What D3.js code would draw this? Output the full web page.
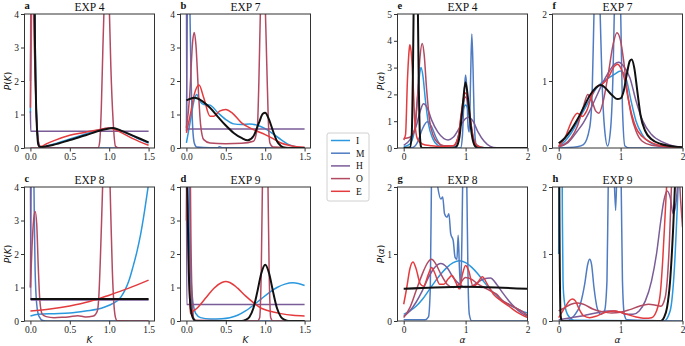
<!DOCTYPE html>
<html><head><meta charset="utf-8">
<script src="https://cdn.jsdelivr.net/npm/d3@7"></script>
<style>body{margin:0;background:#fff}</style>
</head><body>
<svg id="chart" width="685" height="346"></svg>
<script>
// ---- categories / labels ----
const methods = ["I", "M", "H", "O", "E"];
const experiments = ["EXP 4", "EXP 7", "EXP 8", "EXP 9"];
const kTicks = [0, 0.5, 1.0, 1.5];
const alphaTicks = [0, 1, 2];
const kYTicks = [0, 1, 2, 3, 4];
const alphaYTicks5 = [0, 1, 2, 3, 4, 5];
const alphaYTicks2 = [0, 1, 2];

// ---- estimated densities P(K), [K, P] pairs; *_T is the true distribution ----
const K4_I = [[0,1.05],[0.01,3],[0.025,6],[0.05,5],[0.07,1.5],[0.09,0.45],[0.11,0.1],[0.13,0.03],[0.2,0.06],[0.3,0.12],[0.5,0.27],[0.7,0.42],[0.85,0.53],[1.0,0.6],[1.1,0.55],[1.2,0.46],[1.35,0.3],[1.5,0.15]];
const K4_M = [[0,2],[0.02,6],[0.05,4.5],[0.07,1.6],[0.09,0.4],[0.11,0.08],[0.14,0.01],[0.3,0],[1.5,0]];
const K4_H = [[0,1.1],[0.004,0.5],[0.5,0.5],[1.0,0.5],[1.5,0.5]];
const K4_O = [[0,0],[0.8,0],[0.86,0.01],[0.88,0.2],[0.9,1.2],[0.92,3],[0.935,4.2],[0.97,8],[1.0,4.3],[1.02,2.5],[1.05,0.8],[1.08,0.05],[1.12,0],[1.5,0]];
const K4_E = [[0,1.2],[0.005,4.5],[0.02,6],[0.05,3],[0.075,1],[0.095,0.3],[0.12,0.05],[0.14,0.05],[0.2,0.12],[0.3,0.22],[0.5,0.38],[0.7,0.47],[0.85,0.54],[1.0,0.6],[1.1,0.52],[1.3,0.28],[1.5,0.08]];
const K4_T = [[0.04,12],[0.055,4],[0.07,1.5],[0.085,0.5],[0.1,0.1],[0.12,0.03],[0.2,0.05],[0.3,0.1],[0.5,0.24],[0.7,0.38],[0.85,0.5],[1.0,0.58],[1.05,0.6],[1.15,0.52],[1.3,0.37],[1.5,0.17]];

const K7_I = [[0,0.15],[0.05,0.8],[0.1,1.45],[0.13,1.6],[0.17,1.4],[0.22,1.3],[0.3,1.28],[0.4,1.05],[0.5,0.85],[0.6,0.72],[0.7,0.7],[0.8,0.72],[0.9,0.68],[1.0,0.58],[1.1,0.42],[1.2,0.25],[1.3,0.1],[1.4,0.03],[1.5,0.01]];
const K7_M = [[0,0.5],[0.02,5],[0.04,4.5],[0.06,2],[0.08,0.6],[0.1,0.15],[0.13,0.03],[0.3,0.01],[0.4,0.01],[0.42,0.04],[0.45,0.01],[1.5,0]];
const K7_H = [[0,6],[0.004,0.57],[0.5,0.57],[1.0,0.57],[1.5,0.57]];
const K7_O = [[0,0.6],[0.04,1.5],[0.08,3.2],[0.1,3.45],[0.12,3.1],[0.15,1.8],[0.18,0.7],[0.22,0.25],[0.3,0.15],[0.5,0.13],[0.7,0.14],[0.85,0.2],[0.9,0.6],[0.92,2],[0.94,4.2],[0.97,6],[1.0,4.3],[1.02,2.5],[1.04,0.8],[1.06,0.15],[1.1,0.03],[1.5,0]];
const K7_E = [[0,0.45],[0.05,1.0],[0.1,1.6],[0.16,1.88],[0.22,1.5],[0.3,0.95],[0.35,0.95],[0.42,1.1],[0.5,1.15],[0.58,1.05],[0.7,0.75],[0.85,0.55],[1.0,0.4],[1.1,0.28],[1.2,0.15],[1.3,0.08],[1.4,0.04],[1.5,0.02]];
const K7_T = [[0,1.42],[0.05,1.47],[0.1,1.5],[0.15,1.47],[0.2,1.4],[0.3,1.2],[0.4,0.93],[0.5,0.67],[0.6,0.45],[0.7,0.3],[0.78,0.23],[0.85,0.35],[0.92,0.75],[0.97,1.02],[1.0,1.05],[1.04,0.9],[1.1,0.5],[1.15,0.2],[1.2,0.06],[1.25,0.01],[1.3,0],[1.5,0]];

const K8_I = [[0,0.15],[0.1,0.2],[0.3,0.22],[0.5,0.24],[0.7,0.3],[0.9,0.38],[1.0,0.47],[1.1,0.6],[1.15,0.72],[1.2,0.92],[1.25,1.2],[1.3,1.6],[1.35,2.05],[1.4,2.6],[1.45,3.3],[1.5,4.1]];
const K8_M = [[0,1],[0.02,6],[0.04,5],[0.05,3],[0.06,1.5],[0.08,0.5],[0.1,0.2],[0.12,0.1],[0.14,0.03],[0.2,0],[1.5,0]];
const K8_H = [[0,6],[0.004,0.63],[0.5,0.63],[1.0,0.63],[1.5,0.63]];
const K8_O = [[0,1.0],[0.02,2.2],[0.04,3.0],[0.06,3.27],[0.08,2.9],[0.1,1.6],[0.12,0.6],[0.15,0.2],[0.2,0.13],[0.3,0.1],[0.4,0.11],[0.5,0.13],[0.6,0.16],[0.7,0.12],[0.8,0.15],[0.85,0.3],[0.87,0.8],[0.89,2],[0.91,3.5],[0.93,5],[0.97,6],[1.0,5],[1.02,3.2],[1.04,1.5],[1.06,0.5],[1.08,0.1],[1.1,0.01],[1.5,0]];
const K8_E = [[0,0.3],[0.25,0.36],[0.5,0.45],[0.75,0.58],[1.0,0.77],[1.25,0.98],[1.5,1.22]];
const K8_T = [[0,0.66],[0.5,0.66],[1.0,0.66],[1.5,0.66]];

const K9_I = [[0,5],[0.03,3],[0.06,1.2],[0.09,0.45],[0.12,0.22],[0.18,0.1],[0.3,0.06],[0.45,0.07],[0.55,0.1],[0.65,0.17],[0.75,0.3],[0.85,0.47],[0.95,0.66],[1.05,0.85],[1.15,1.0],[1.25,1.1],[1.35,1.14],[1.42,1.12],[1.5,1.06]];
const K9_M = [[0,6],[0.03,5],[0.06,1],[0.09,0.1],[0.12,0],[1.5,0]];
const K9_H = [[0,6],[0.004,0.49],[0.5,0.49],[1.0,0.49],[1.5,0.49]];
const K9_O = [[0,3],[0.02,6],[0.04,6],[0.06,2],[0.08,0.3],[0.1,0.02],[0.9,0],[0.93,0.1],[0.95,1.5],[0.97,5],[1.0,8],[1.03,5],[1.05,1.5],[1.07,0.1],[1.1,0],[1.5,0]];
const K9_E = [[0,4.5],[0.02,2.5],[0.04,0.8],[0.05,0.22],[0.08,0.28],[0.15,0.42],[0.25,0.7],[0.35,0.98],[0.45,1.15],[0.5,1.18],[0.55,1.15],[0.65,0.98],[0.75,0.75],[0.85,0.55],[0.95,0.38],[1.05,0.3],[1.2,0.22],[1.35,0.17],[1.5,0.15]];
const K9_T = [[0,6],[0.01,4],[0.03,1.5],[0.05,0.5],[0.08,0.1],[0.12,0],[0.7,0],[0.75,0.03],[0.8,0.12],[0.85,0.38],[0.9,0.87],[0.95,1.42],[1.0,1.68],[1.05,1.42],[1.1,0.87],[1.15,0.38],[1.2,0.12],[1.25,0.03],[1.3,0],[1.5,0]];

// ---- estimated densities P(alpha) ----
const A4_I = [[0,0.05],[0.1,0.15],[0.17,0.6],[0.22,1.8],[0.26,2.8],[0.28,3.0],[0.31,2.7],[0.35,1.8],[0.4,0.9],[0.47,0.35],[0.55,0.1],[0.65,0.03],[0.8,0.05],[0.88,0.4],[0.94,1.2],[0.98,1.55],[1.0,1.6],[1.03,1.5],[1.07,1.0],[1.12,0.4],[1.18,0.1],[1.3,0.01],[2,0]];
const A4_M = [[0,0],[0.15,0.02],[0.22,0.2],[0.3,0.7],[0.38,0.98],[0.45,0.8],[0.52,0.4],[0.6,0.1],[0.7,0.01],[0.92,0],[0.95,0.5],[0.98,2.2],[1.0,2.72],[1.02,2.2],[1.04,0.8],[1.06,0.6],[1.08,2.5],[1.1,4.25],[1.12,3.0],[1.14,1.0],[1.17,0.1],[1.2,0],[2,0]];
const A4_H = [[0,0.1],[0.1,0.3],[0.2,0.8],[0.27,1.4],[0.32,1.65],[0.38,1.5],[0.45,1.05],[0.55,0.6],[0.65,0.35],[0.72,0.3],[0.8,0.4],[0.9,0.75],[1.0,1.1],[1.05,1.15],[1.12,1.0],[1.2,0.6],[1.3,0.25],[1.4,0.06],[1.5,0.01],[2,0]];
const A4_O = [[0,0.35],[0.1,0.4],[0.18,0.7],[0.22,1.8],[0.26,3.3],[0.3,3.9],[0.33,3.5],[0.37,2.2],[0.42,1.0],[0.48,0.45],[0.55,0.2],[0.65,0.08],[0.8,0.08],[0.88,0.4],[0.93,1.2],[0.98,1.85],[1.0,1.9],[1.03,1.75],[1.08,1.0],[1.13,0.35],[1.2,0.08],[1.3,0.01],[2,0]];
const A4_E = [[0,0.3],[0.03,0.5],[0.06,2.5],[0.09,3.7],[0.1,3.85],[0.12,3.6],[0.15,2.5],[0.18,1.0],[0.22,0.35],[0.3,0.15],[0.45,0.08],[0.6,0.05],[0.8,0.08],[0.88,0.4],[0.93,1.3],[0.97,1.9],[1.0,2.05],[1.03,1.9],[1.07,1.2],[1.12,0.4],[1.18,0.08],[1.3,0.01],[2,0]];
const A4_T = [[0,0],[0.1,0.02],[0.13,0.5],[0.15,3],[0.17,7],[0.2,9],[0.22,7],[0.24,3],[0.26,0.6],[0.28,0.05],[0.3,0],[0.8,0],[0.85,0.05],[0.9,0.4],[0.95,1.5],[1.0,2.45],[1.05,1.6],[1.1,0.5],[1.15,0.08],[1.2,0],[2,0]];

const A7_I = [[0,0.02],[0.1,0.1],[0.2,0.22],[0.3,0.38],[0.4,0.55],[0.5,0.72],[0.6,0.88],[0.7,0.98],[0.8,1.04],[0.9,1.1],[1.0,1.15],[1.05,1.12],[1.1,1.0],[1.17,0.7],[1.25,0.4],[1.35,0.2],[1.5,0.07],[1.7,0.02],[2,0]];
const A7_M = [[0,0],[0.3,0.02],[0.4,0.05],[0.5,0.3],[0.54,0.8],[0.57,2],[0.62,3.5],[0.67,2],[0.7,1.0],[0.74,0.3],[0.79,0.03],[0.84,0.3],[0.88,1.2],[0.9,2.1],[0.95,3.5],[1.0,2.1],[1.03,0.6],[1.07,0.03],[1.15,0],[2,0]];
const A7_H = [[0,0.02],[0.15,0.08],[0.3,0.25],[0.4,0.38],[0.5,0.55],[0.6,0.75],[0.7,0.95],[0.8,1.12],[0.9,1.25],[0.97,1.28],[1.05,1.22],[1.15,1.05],[1.25,0.7],[1.35,0.42],[1.5,0.2],[1.7,0.08],[1.85,0.03],[2,0.01]];
const A7_O = [[0,0.02],[0.1,0.06],[0.2,0.15],[0.3,0.32],[0.4,0.62],[0.47,0.8],[0.53,0.72],[0.6,0.55],[0.65,0.52],[0.72,0.7],[0.8,1.1],[0.88,1.55],[0.94,1.72],[1.0,1.6],[1.05,1.3],[1.1,0.9],[1.17,0.5],[1.25,0.25],[1.35,0.1],[1.5,0.04],[2,0]];
const A7_E = [[0,0.03],[0.1,0.15],[0.2,0.38],[0.3,0.52],[0.38,0.47],[0.45,0.55],[0.55,0.82],[0.62,0.92],[0.7,0.95],[0.8,1.05],[0.9,1.22],[0.95,1.25],[1.0,1.2],[1.07,1.0],[1.12,0.75],[1.18,0.5],[1.25,0.3],[1.35,0.17],[1.5,0.08],[1.7,0.03],[2,0.01]];
const A7_T = [[0,0.07],[0.1,0.15],[0.2,0.27],[0.3,0.42],[0.4,0.6],[0.5,0.78],[0.6,0.9],[0.68,0.94],[0.75,0.9],[0.85,0.8],[0.95,0.73],[1.0,0.74],[1.05,0.85],[1.1,1.1],[1.15,1.3],[1.18,1.32],[1.22,1.2],[1.27,0.85],[1.32,0.5],[1.4,0.25],[1.5,0.13],[1.65,0.06],[1.8,0.03],[2,0.01]];

const A8_I = [[0,0.1],[0.1,0.15],[0.2,0.22],[0.3,0.32],[0.4,0.45],[0.5,0.58],[0.6,0.7],[0.7,0.8],[0.8,0.87],[0.9,0.9],[1.0,0.87],[1.1,0.8],[1.2,0.7],[1.3,0.58],[1.4,0.47],[1.5,0.38],[1.6,0.3],[1.7,0.24],[1.8,0.2],[1.9,0.15],[2,0.12]];
const A8_M = [[0,0.02],[0.35,0.02],[0.4,0.06],[0.43,0.5],[0.45,2.2],[0.47,2.6],[0.5,2.4],[0.55,2.0],[0.6,1.82],[0.63,1.85],[0.66,1.6],[0.7,1.55],[0.73,1.6],[0.76,1.3],[0.8,1.2],[0.83,0.95],[0.86,0.92],[0.88,1.28],[0.9,0.8],[0.92,0.48],[0.94,1.2],[0.96,2.5],[0.99,3],[1.02,2],[1.04,0.6],[1.06,0.1],[1.1,0],[2,0]];
const A8_H = [[0,0.07],[0.1,0.15],[0.2,0.28],[0.3,0.45],[0.4,0.65],[0.5,0.8],[0.6,0.86],[0.7,0.8],[0.8,0.65],[0.9,0.55],[1.0,0.5],[1.1,0.52],[1.2,0.58],[1.3,0.63],[1.4,0.64],[1.5,0.55],[1.6,0.42],[1.7,0.3],[1.8,0.2],[1.9,0.12],[2,0.07]];
const A8_O = [[0,0.05],[0.1,0.2],[0.2,0.45],[0.3,0.7],[0.38,0.86],[0.45,0.92],[0.52,0.85],[0.6,0.7],[0.7,0.55],[0.8,0.5],[0.9,0.55],[1.0,0.65],[1.1,0.62],[1.2,0.55],[1.3,0.5],[1.4,0.45],[1.5,0.4],[1.6,0.3],[1.7,0.25],[1.8,0.2],[1.9,0.15],[2,0.08]];
const A8_E = [[0,0.25],[0.05,0.5],[0.1,0.78],[0.15,0.88],[0.2,0.78],[0.27,0.55],[0.32,0.52],[0.4,0.7],[0.45,0.8],[0.5,0.72],[0.58,0.55],[0.65,0.55],[0.72,0.63],[0.78,0.68],[0.84,0.58],[0.9,0.48],[0.95,0.7],[1.0,0.83],[1.05,0.75],[1.12,0.52],[1.18,0.55],[1.27,0.66],[1.35,0.55],[1.45,0.4],[1.55,0.32],[1.7,0.22],[1.85,0.12],[2,0.05]];
const A8_T = [[0,0.48],[0.5,0.5],[1.0,0.51],[1.5,0.5],[2,0.48]];

const A9_I = [[0,1],[0.02,4],[0.05,3],[0.06,1.5],[0.07,0.6],[0.08,0.4],[0.12,0.15],[0.18,0.05],[0.25,0.01],[1.7,0],[1.8,0.15],[1.87,0.8],[1.92,1.8],[1.97,3],[2,4]];
const A9_M = [[0,0],[0.15,0.01],[0.25,0.08],[0.35,0.25],[0.42,0.55],[0.47,0.85],[0.5,0.92],[0.53,0.85],[0.57,0.5],[0.62,0.2],[0.68,0.1],[0.74,0.15],[0.78,0.6],[0.8,2.0],[0.83,3],[0.88,2.6],[0.92,1.65],[0.95,2.6],[0.98,3],[1.01,2],[1.03,0.6],[1.06,0.1],[1.1,0.02],[2,0]];
const A9_H = [[0,0.02],[0.2,0.05],[0.4,0.08],[0.6,0.12],[0.8,0.15],[0.9,0.15],[1.0,0.13],[1.1,0.1],[1.2,0.1],[1.3,0.15],[1.4,0.3],[1.5,0.6],[1.58,1.0],[1.65,1.5],[1.7,1.8],[1.75,1.94],[1.8,1.85],[1.85,1.6],[1.9,1.8],[1.95,2.5],[2,3.5]];
const A9_O = [[0,0.15],[0.1,0.2],[0.2,0.25],[0.3,0.27],[0.4,0.25],[0.55,0.18],[0.7,0.14],[0.85,0.12],[1.0,0.13],[1.15,0.17],[1.3,0.22],[1.45,0.25],[1.55,0.24],[1.65,0.22],[1.72,0.35],[1.78,1.0],[1.83,2.2],[1.88,3],[1.93,2.5],[1.97,1.8],[2,1.4]];
const A9_E = [[0,0.05],[0.1,0.2],[0.18,0.31],[0.22,0.33],[0.27,0.3],[0.33,0.18],[0.4,0.08],[0.5,0.05],[0.6,0.07],[0.7,0.11],[0.8,0.14],[0.9,0.15],[1.0,0.13],[1.1,0.1],[1.25,0.06],[1.4,0.04],[1.5,0.05],[1.58,0.15],[1.64,0.4],[1.68,0.9],[1.72,1.6],[1.76,2.3],[1.82,3],[1.9,3],[1.96,2.5],[2,2.0]];
const A9_T = [[0,6],[0.01,2],[0.03,0.1],[0.05,0],[1.65,0],[1.7,0.05],[1.75,0.2],[1.8,0.6],[1.85,1.4],[1.9,2.5],[1.95,4],[2,5]];

// ---- styling ----
const methodColor = {I: "#2a98df", M: "#4f7bc2", H: "#7a5c98", O: "#b24a62", E: "#e43b3e"};
const serif = "Liberation Serif, Times New Roman, serif";
const sans = "DejaVu Sans, sans-serif";

const svg = d3.select("#chart");

const colsK = [[24.5, 154.5], [180.5, 310.5]];
const colsA = [[397.5, 527.5], [552.5, 682.5]];
const rows = [[14, 148], [187, 321]];

const panels = [
  {id: "a", exp: 0, kind: "K", col: 0, row: 0, s: [K4_I, K4_M, K4_H, K4_O, K4_E], t: K4_T, ymax: 4, yt: kYTicks},
  {id: "b", exp: 1, kind: "K", col: 1, row: 0, s: [K7_I, K7_M, K7_H, K7_O, K7_E], t: K7_T, ymax: 4, yt: kYTicks},
  {id: "c", exp: 2, kind: "K", col: 0, row: 1, s: [K8_I, K8_M, K8_H, K8_O, K8_E], t: K8_T, ymax: 4, yt: kYTicks},
  {id: "d", exp: 3, kind: "K", col: 1, row: 1, s: [K9_I, K9_M, K9_H, K9_O, K9_E], t: K9_T, ymax: 4, yt: kYTicks},
  {id: "e", exp: 0, kind: "A", col: 0, row: 0, s: [A4_I, A4_M, A4_H, A4_O, A4_E], t: A4_T, ymax: 5, yt: alphaYTicks5},
  {id: "f", exp: 1, kind: "A", col: 1, row: 0, s: [A7_I, A7_M, A7_H, A7_O, A7_E], t: A7_T, ymax: 2, yt: alphaYTicks2},
  {id: "g", exp: 2, kind: "A", col: 0, row: 1, s: [A8_I, A8_M, A8_H, A8_O, A8_E], t: A8_T, ymax: 2, yt: alphaYTicks2},
  {id: "h", exp: 3, kind: "A", col: 1, row: 1, s: [A9_I, A9_M, A9_H, A9_O, A9_E], t: A9_T, ymax: 2, yt: alphaYTicks2}
];

function mathLabel(sel, sym) {
  sel.append("tspan").attr("font-style", "italic").text("P");
  sel.append("tspan").text("(");
  sel.append("tspan").attr("font-style", "italic").text(sym);
  sel.append("tspan").text(")");
}

panels.forEach(p => {
  const [x0, x1] = (p.kind === "K" ? colsK : colsA)[p.col];
  const [y0, y1] = rows[p.row];
  const x = d3.scaleLinear().domain(p.kind === "K" ? [-0.075, 1.575] : [-0.1, 2]).range([x0, x1]);
  const y = d3.scaleLinear().domain([0, p.ymax]).range([y1, y0]);
  const g = svg.append("g");

  const clipId = "clip-" + p.id;
  g.append("clipPath").attr("id", clipId)
    .append("rect").attr("x", x0).attr("y", y0).attr("width", x1 - x0).attr("height", y1 - y0);

  const line = d3.line().x(d => x(d[0])).y(d => y(d[1])).curve(d3.curveMonotoneX);
  const lg = g.append("g").attr("clip-path", `url(#${clipId})`);
  p.s.forEach((data, i) => {
    lg.append("path").attr("d", line(data)).attr("fill", "none")
      .attr("stroke", methodColor[methods[i]]).attr("stroke-width", 1.5)
      .attr("stroke-linejoin", "round");
  });
  lg.append("path").attr("d", line(p.t)).attr("fill", "none")
    .attr("stroke", "#111").attr("stroke-width", 2).attr("stroke-linejoin", "round");

  // frame
  g.append("rect").attr("x", x0).attr("y", y0).attr("width", x1 - x0).attr("height", y1 - y0)
    .attr("fill", "none").attr("stroke", "#333").attr("stroke-width", 1);

  // axes
  const xAxis = d3.axisBottom(x)
    .tickValues(p.kind === "K" ? kTicks : alphaTicks)
    .tickFormat(p.kind === "K" ? d3.format(".1f") : d3.format("d"))
    .tickSize(3.5).tickPadding(2);
  const yAxis = d3.axisLeft(y).tickValues(p.yt).tickFormat(d3.format("d")).tickSize(3.5).tickPadding(2);
  [g.append("g").attr("transform", `translate(0,${y1})`).call(xAxis),
   g.append("g").attr("transform", `translate(${x0},0)`).call(yAxis)].forEach(a => {
    a.select(".domain").remove();
    a.selectAll(".tick line").attr("stroke", "#333");
    a.selectAll(".tick text").attr("font-family", serif).attr("font-size", 9.5).attr("fill", "#222");
  });

  // title and panel letter
  g.append("text").attr("x", (x0 + x1) / 2).attr("y", y0 - 3).attr("text-anchor", "middle")
    .attr("font-family", serif).attr("font-size", 11.5).attr("fill", "#111").text(experiments[p.exp]);
  g.append("text").attr("x", x0).attr("y", y0 - 5).attr("font-family", serif).attr("font-weight", "bold")
    .attr("font-size", 10.5).attr("fill", "#111").text(p.id);

  // axis labels
  if (p.col === 0) {
    const t = g.append("text")
      .attr("transform", `translate(${x0 - 14},${(y0 + y1) / 2}) rotate(-90)`)
      .attr("text-anchor", "middle").attr("font-family", sans).attr("font-size", 9).attr("fill", "#111");
    mathLabel(t, p.kind === "K" ? "K" : "\u03b1");
  }
  if (p.row === 1) {
    g.append("text").attr("x", (x0 + x1) / 2).attr("y", y1 + 22).attr("text-anchor", "middle")
      .attr("font-family", sans).attr("font-style", "italic").attr("font-size", 9).attr("fill", "#111")
      .text(p.kind === "K" ? "K" : "\u03b1");
  }
});

// legend
const leg = svg.append("g").attr("transform", "translate(327,133)");
leg.append("rect").attr("width", 42).attr("height", 68).attr("rx", 2)
  .attr("fill", "#fff").attr("stroke", "#d0d0d0").attr("stroke-width", 1);
methods.forEach((m, i) => {
  const yy = 7.5 + i * 12.7;
  leg.append("line").attr("x1", 4).attr("x2", 23).attr("y1", yy).attr("y2", yy)
    .attr("stroke", methodColor[m]).attr("stroke-width", 1.5);
  leg.append("text").attr("x", 29).attr("y", yy + 3.3).attr("font-family", serif)
    .attr("font-size", 9.5).attr("fill", "#111").text(m);
});
</script>
</body></html>
